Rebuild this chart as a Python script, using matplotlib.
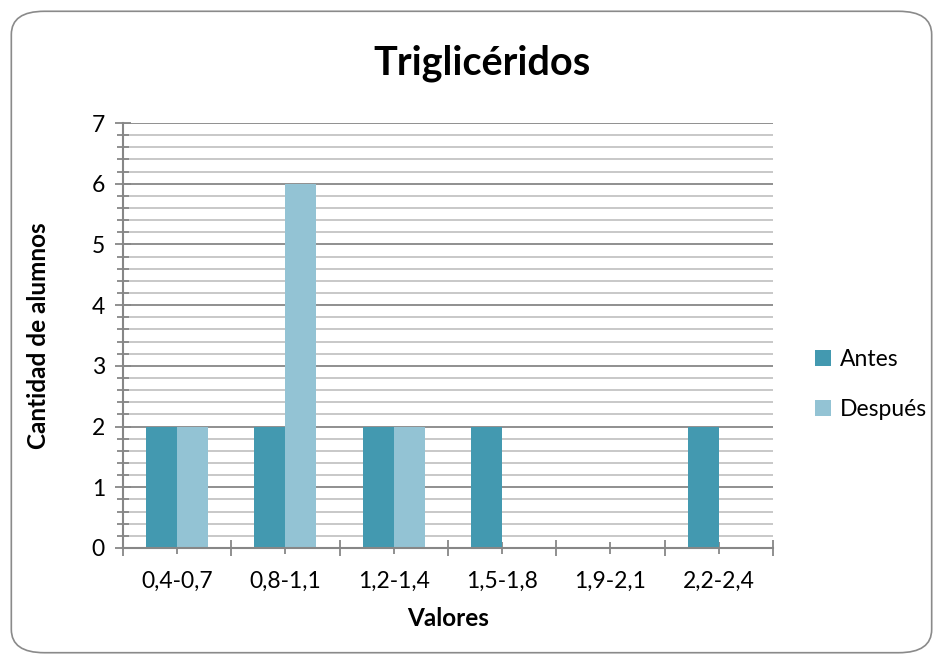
import matplotlib.pyplot as plt
import numpy as np
from matplotlib.patches import FancyBboxPatch
from matplotlib.ticker import MultipleLocator, FixedLocator

plt.rcParams['font.family'] = ['Lato', 'DejaVu Sans']

categories = ["0,4-0,7", "0,8-1,1", "1,2-1,4", "1,5-1,8", "1,9-2,1", "2,2-2,4"]
antes = [2, 2, 2, 2, 0, 2]
despues = [2, 6, 2, 0, 0, 0]

c_antes = "#4399B0"
c_despues = "#93C3D4"
grid_major = "#878787"
grid_minor = "#C4C4C4"

fig = plt.figure(figsize=(9.43, 6.64), dpi=100)

# rounded frame around the whole chart
frame = FancyBboxPatch((0.012, 0.017), 0.976, 0.966,
                       boxstyle="round,pad=0,rounding_size=0.035",
                       transform=fig.transFigure, facecolor="white",
                       edgecolor="#8A8A8A", linewidth=1.2, zorder=-5)
fig.patches.append(frame)

ax = fig.add_axes([0.1304, 0.1747, 0.6893, 0.640])
ax.set_facecolor("none")

x = np.arange(len(categories))
w = 0.286
ax.bar(x - w / 2, antes, w, color=c_antes, label="Antes", zorder=3)
ax.bar(x + w / 2, despues, w, color=c_despues, label="Después", zorder=3)

ax.set_xlim(-0.5, len(categories) - 0.5)
ax.set_ylim(0, 7)

ax.yaxis.set_major_locator(MultipleLocator(1))
ax.yaxis.set_minor_locator(MultipleLocator(0.2))
ax.grid(axis="y", which="major", color=grid_major, linewidth=1.3, zorder=1)
ax.grid(axis="y", which="minor", color=grid_minor, linewidth=1.3, zorder=1)

ax.set_xticks(x)
ax.set_xticklabels(categories)
ax.xaxis.set_minor_locator(FixedLocator(np.arange(-0.5, len(categories), 1.0)))

ax.tick_params(axis="x", which="major", direction="inout", length=9, width=1.3,
               color=grid_major, labelsize=16.5, pad=12)
ax.tick_params(axis="x", which="minor", direction="inout", length=11, width=1.3,
               color=grid_major)
ax.tick_params(axis="y", which="major", direction="inout", length=12, width=1.3,
               color=grid_major, labelsize=16.5, pad=7)
ax.tick_params(axis="y", which="minor", direction="inout", length=9, width=1.3,
               color=grid_major)

for s in ["top", "right"]:
    ax.spines[s].set_visible(False)
for s in ["left", "bottom"]:
    ax.spines[s].set_color(grid_major)
    ax.spines[s].set_linewidth(1.5)
    ax.spines[s].set_zorder(4)

ax.set_xlabel("Valores", fontsize=17.5, fontweight="bold", labelpad=11)
ax.set_ylabel("Cantidad de alumnos", fontsize=17.5, fontweight="bold", labelpad=30)

fig.text(0.511, 0.905, "Triglicéridos", ha="center", va="center",
         fontsize=28.5, fontweight="bold")

ax.legend(loc="center left", bbox_to_anchor=(1.033, 0.385), frameon=False,
          fontsize=16.5, handlelength=0.7, handleheight=0.7,
          handletextpad=0.4, labelspacing=1.25)

fig.savefig("out.png", dpi=100)
